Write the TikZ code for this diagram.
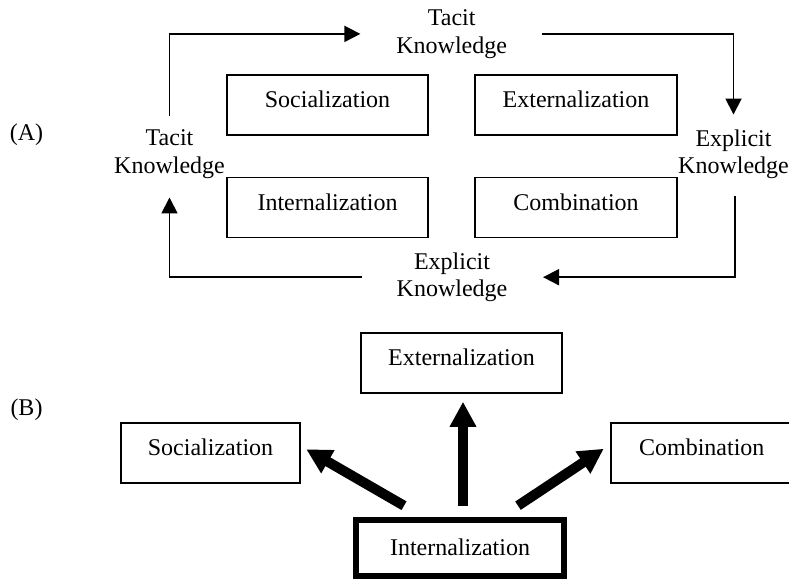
\documentclass[tikz,border=0pt]{standalone}
\usepackage{fontspec}
\setmainfont{Liberation Serif}
\usetikzlibrary{arrows.meta}

\begin{document}
\begin{tikzpicture}[x=1pt, y=-1pt,
  font=\fontsize{24}{27.5}\selectfont,
  box/.style={draw, line width=1.8pt, inner sep=0pt, outer sep=0pt,
    anchor=north west, text height=33pt, text depth=27pt},
  heavybox/.style={draw, line width=6pt, inner sep=0pt, outer sep=0pt,
    anchor=north west, text height=35.3pt, text depth=21pt, minimum width=208pt},
  kn/.style={align=center, inner sep=0pt, outer sep=0pt},
  tag/.style={anchor=base, inner sep=0pt},
  flow/.style={line width=1.8pt, -{Triangle[length=16pt,width=16pt]}},
  push/.style={line width=10pt, -{Triangle[length=25pt,width=25pt]}},
]
\useasboundingbox (0,0) rectangle (789,581);

% ---------- (A) the knowledge spiral ----------
\node[tag] (labA) at (26.5,140) {(A)};

\node[box, minimum width=201.5pt] (socA) at (226.75,74.75)  {Socialization};
\node[box, minimum width=202.5pt] (extA) at (474.75,74.75)  {Externalization};
\node[box, minimum width=201.5pt] (intA) at (226.75,177.45) {Internalization};
\node[box, minimum width=202.5pt] (comA) at (474.75,177.45) {Combination};

\node[kn] (tkT) at (451.7,33.9)  {Tacit\\Knowledge};
\node[kn] (tkL) at (169.5,154.2) {Tacit\\Knowledge};
\node[kn] (ekR) at (733.5,154.2) {Explicit\\Knowledge};
\node[kn] (ekB) at (452,277.2)   {Explicit\\Knowledge};

\draw[flow] ([yshift=14pt]tkL.north) |- ([xshift=-36pt]tkT.west);
\draw[flow] ([xshift=35pt]tkT.east) -| ([yshift=15pt]ekR.north);
\draw[flow] ([xshift=1.5pt,yshift=-17pt]ekR.south) |- ([xshift=35.7pt]ekB.east);
\draw[flow] ([xshift=-35pt]ekB.west) -| ([yshift=-19pt]tkL.south);

% ---------- (B) internalization as the source ----------
\node[tag] (labB) at (26.5,415) {(B)};

\node[box, minimum width=201.5pt] (extB) at (360.75,332.75) {Externalization};
\node[box, minimum width=179.5pt] (socB) at (120.75,422.75) {Socialization};
\node[box, minimum width=182pt]   (comB) at (610.75,422.75) {Combination};
\node[heavybox] (intB) at (356,519.7) {Internalization};

\draw[push] ([xshift=3pt,yshift=14pt]intB.north) -- ([xshift=1.5pt,yshift=-9pt]extB.south);
\draw[push] ([xshift=-56pt,yshift=14pt]intB.north) -- ([xshift=6pt,yshift=3.5pt]socB.east);
\draw[push] ([xshift=58pt,yshift=14pt]intB.north) -- ([xshift=-7pt,yshift=4pt]comB.west);
\end{tikzpicture}
\end{document}
